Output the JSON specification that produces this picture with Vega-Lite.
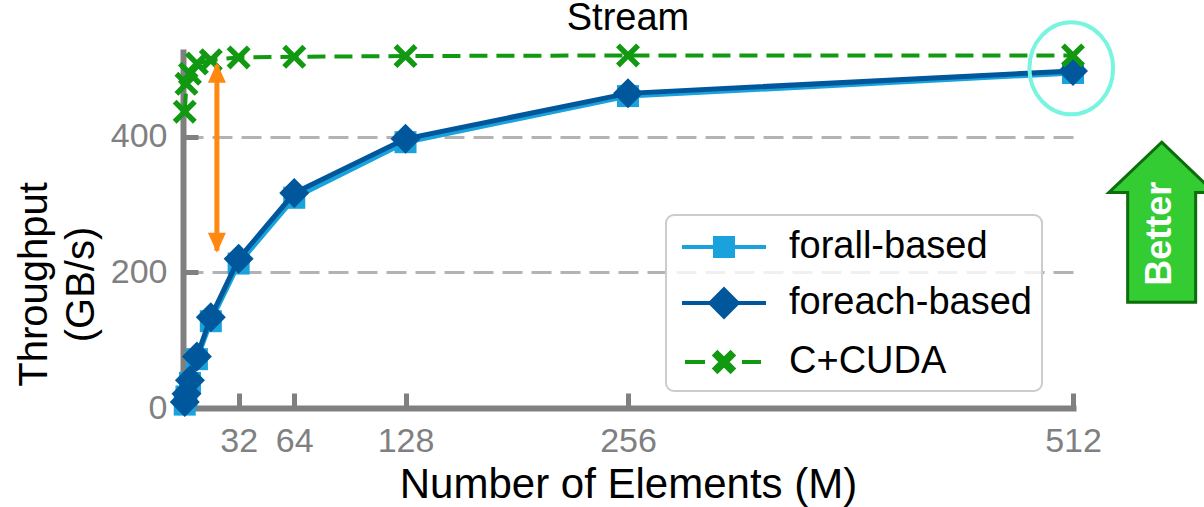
{
  "$schema": "https://vega.github.io/schema/vega-lite/v6.json",
  "width": 890,
  "height": 356,
  "autosize": "none",
  "padding": {"left": 183, "top": 52, "right": 131, "bottom": 99},
  "background": "white",
  "config": {"view": {"stroke": null}, "font": "Liberation Sans"},
  "title": {"text": "Stream", "fontSize": 38, "fontWeight": "normal", "color": "black", "font": "Liberation Sans", "anchor": "middle", "frame": "group", "baseline": "alphabetic", "offset": 0, "dy": 54},
  "datasets": {
    "main": [
      {"s": "forall-based", "n": 1, "v": 5},
      {"s": "forall-based", "n": 2, "v": 17},
      {"s": "forall-based", "n": 4, "v": 37},
      {"s": "forall-based", "n": 8, "v": 72},
      {"s": "forall-based", "n": 16, "v": 128},
      {"s": "forall-based", "n": 32, "v": 213},
      {"s": "forall-based", "n": 64, "v": 310},
      {"s": "forall-based", "n": 128, "v": 392},
      {"s": "forall-based", "n": 256, "v": 460},
      {"s": "forall-based", "n": 512, "v": 494},
      {"s": "foreach-based", "n": 1, "v": 9},
      {"s": "foreach-based", "n": 2, "v": 21},
      {"s": "foreach-based", "n": 4, "v": 41},
      {"s": "foreach-based", "n": 8, "v": 76},
      {"s": "foreach-based", "n": 16, "v": 134},
      {"s": "foreach-based", "n": 32, "v": 220},
      {"s": "foreach-based", "n": 64, "v": 317},
      {"s": "foreach-based", "n": 128, "v": 397},
      {"s": "foreach-based", "n": 256, "v": 464},
      {"s": "foreach-based", "n": 512, "v": 497},
      {"s": "C+CUDA", "n": 1, "v": 437},
      {"s": "C+CUDA", "n": 2, "v": 478},
      {"s": "C+CUDA", "n": 4, "v": 493},
      {"s": "C+CUDA", "n": 8, "v": 508},
      {"s": "C+CUDA", "n": 16, "v": 513},
      {"s": "C+CUDA", "n": 32, "v": 517},
      {"s": "C+CUDA", "n": 64, "v": 518},
      {"s": "C+CUDA", "n": 128, "v": 519},
      {"s": "C+CUDA", "n": 256, "v": 520},
      {"s": "C+CUDA", "n": 512, "v": 520}
    ],
    "arrow": [{"n": 19.5, "v": 232, "v2": 506}],
    "heads": [{"n": 19.5, "v": 509, "dir": "up"}, {"n": 19.5, "v": 229, "dir": "down"}],
    "ellipse": [{"n": 511, "v": 501}],
    "better": [{"n": 563, "v": 274}],
    "betterText": [{"n": 562, "v": 257, "label": "Better"}]
  },
  "encoding": {
    "x": {
      "field": "n", "type": "quantitative",
      "scale": {"domain": [0, 512], "nice": false, "zero": false},
      "axis": {
        "values": [32, 64, 128, 256, 512], "grid": false,
        "domainColor": "#808080", "domainWidth": 6, "domainCap": "square",
        "tickColor": "#808080", "tickWidth": 5, "tickSize": -15,
        "labelFontSize": 34, "labelColor": "#808080", "labelFont": "Liberation Sans", "labelPadding": 31, "labelFlush": false,
        "title": "Number of Elements (M)", "titleFontSize": 42, "titleFontWeight": "normal", "titleColor": "black", "titleFont": "Liberation Sans",
        "titleX": 445, "titleY": 89, "titleBaseline": "alphabetic", "titleAlign": "center"
      }
    },
    "y": {
      "field": "v", "type": "quantitative",
      "scale": {"domain": [0, 525], "nice": false},
      "axis": {
        "values": [0, 200, 400], "grid": true, "gridColor": "#b3b3b3", "gridWidth": 3, "gridDash": [20, 9],
        "domainColor": "#808080", "domainWidth": 6, "domainCap": "square",
        "tickColor": "#808080", "tickWidth": 5, "tickSize": -15,
        "labelFontSize": 34, "labelColor": "#808080", "labelFont": "Liberation Sans", "labelPadding": 31, "labelFlush": false,
        "title": ["Throughput", "(GB/s)"], "titleFontSize": 40, "titleFontWeight": "normal", "titleColor": "black", "titleFont": "Liberation Sans",
        "titleLineHeight": 47, "titleAngle": 270, "titleX": -149, "titleY": 232, "titleBaseline": "middle", "titleAlign": "center"
      }
    }
  },
  "layer": [
    {
      "data": {"name": "main"},
      "encoding": {
        "color": {
          "field": "s", "type": "nominal",
          "scale": {"domain": ["forall-based", "foreach-based", "C+CUDA"], "range": ["#19a2db", "#00579b", "#119911"]},
          "legend": {
            "orient": "none", "legendX": 483, "legendY": 163, "title": null,
            "padding": 10, "fillColor": "rgba(255,255,255,0.8)", "strokeColor": "#cccccc", "cornerRadius": 8,
            "labelFontSize": 38, "labelFont": "Liberation Sans", "labelColor": "black", "labelOffset": 69, "labelLimit": 400,
            "symbolSize": 1600, "rowPadding": 15,
            "encode": {
              "symbols": {"update": {
                "shape": {"signal": "datum.value === 'forall-based' ? 'M-0.8,0L3.4,0M0.85,-0.45L1.75,-0.45L1.75,0.45L0.85,0.45Z' : datum.value === 'foreach-based' ? 'M-0.8,0L3.4,0M1.3,-0.68L1.98,0L1.3,0.68L0.62,0Z' : 'M-0.65,0L0.35,0M2.2,0L3.15,0M1.3,-0.14L1.63,-0.47L1.77,-0.33L1.44,0L1.77,0.33L1.63,0.47L1.3,0.14L0.97,0.47L0.83,0.33L1.16,0L0.83,-0.33L0.97,-0.47Z'"},
                "fill": {"signal": "scale('color', datum.value)"},
                "stroke": {"signal": "scale('color', datum.value)"},
                "strokeWidth": {"value": 4},
                "opacity": {"value": 1},
                "fillOpacity": {"value": 1}
              }},
              "legend": {"update": {"strokeWidth": {"value": 2}}}
            }
          }
        }
      },
      "layer": [
        {"transform": [{"filter": "datum.s === 'forall-based'"}], "mark": {"type": "line", "strokeWidth": 5, "clip": false}},
        {"transform": [{"filter": "datum.s === 'forall-based'"}], "mark": {"type": "point", "shape": "square", "filled": true, "size": 484, "opacity": 1, "clip": false}},
        {"transform": [{"filter": "datum.s === 'foreach-based'"}], "mark": {"type": "line", "strokeWidth": 5, "clip": false}},
        {"transform": [{"filter": "datum.s === 'foreach-based'"}], "mark": {"type": "point", "shape": "diamond", "filled": true, "size": 900, "opacity": 1, "clip": false}},
        {"transform": [{"filter": "datum.s === 'C+CUDA'"}], "mark": {"type": "line", "strokeWidth": 4, "strokeDash": [18, 9], "clip": false}},
        {"transform": [{"filter": "datum.s === 'C+CUDA'"}], "mark": {"type": "point", "shape": "M0,-0.32L0.68,-1L1,-0.68L0.32,0L1,0.68L0.68,1L0,0.32L-0.68,1L-1,0.68L-0.32,0L-1,-0.68L-0.68,-1Z", "filled": true, "size": 576, "opacity": 1, "clip": false}}
      ]
    },
    {
      "data": {"name": "arrow"},
      "mark": {"type": "rule", "color": "#ff8811", "strokeWidth": 5, "clip": false},
      "encoding": {"y2": {"field": "v2"}}
    },
    {
      "data": {"name": "heads"},
      "mark": {"type": "point", "filled": true, "color": "#ff8811", "opacity": 1, "size": 1600, "clip": false},
      "encoding": {"shape": {"field": "dir", "type": "nominal", "scale": {"domain": ["up", "down"], "range": ["M0,0L-0.45,1L0.45,1Z", "M0,0L-0.45,-1L0.45,-1Z"]}, "legend": null}}
    },
    {
      "data": {"name": "ellipse"},
      "mark": {"type": "point", "shape": "M-0.91,0A0.91,1 0 1,0 0.91,0A0.91,1 0 1,0 -0.91,0Z", "filled": false, "stroke": "#78f5e0", "strokeWidth": 4, "opacity": 1, "size": 8464, "clip": false},
      "encoding": {}
    },
    {
      "data": {"name": "better"},
      "mark": {"type": "point", "shape": "M0,-1L0.66,-0.37L0.425,-0.37L0.425,1L-0.425,1L-0.425,-0.37L-0.66,-0.37Z", "filled": true, "fill": "#33cc33", "stroke": "#0b6e0b", "strokeWidth": 3, "opacity": 1, "size": 25600, "clip": false},
      "encoding": {}
    },
    {
      "data": {"name": "betterText"},
      "mark": {"type": "text", "angle": 270, "align": "center", "baseline": "middle", "font": "Liberation Sans", "fontWeight": "bold", "fontSize": 36, "color": "white", "clip": false},
      "encoding": {"text": {"field": "label"}}
    }
  ]
}
